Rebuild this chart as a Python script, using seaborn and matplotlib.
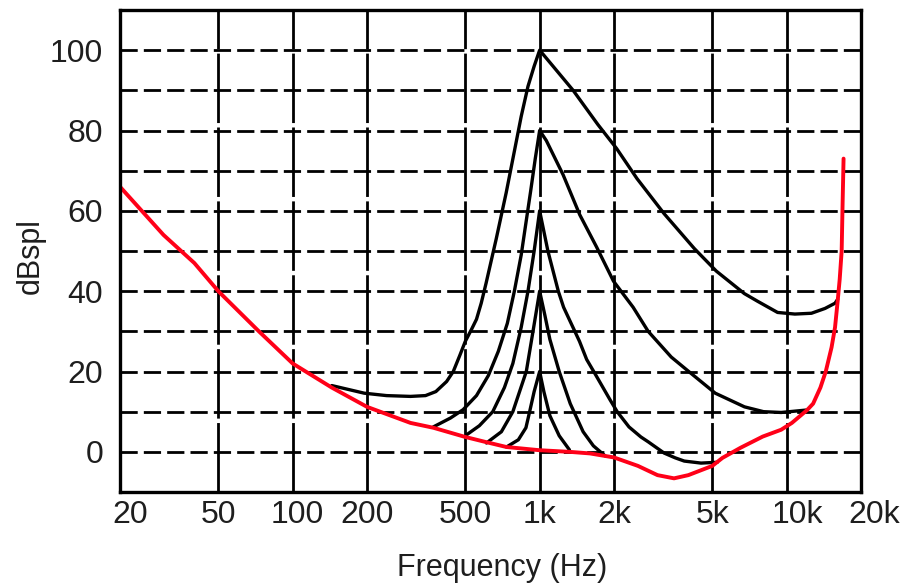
import matplotlib
matplotlib.use("Agg")
import matplotlib.pyplot as plt
import matplotlib.transforms as mtransforms
from matplotlib.ticker import FixedLocator, NullFormatter
import seaborn as sns

# threshold in quiet (red curve)
THRESH_FREQ = [20, 30, 40, 50, 73, 100, 144, 200, 300, 371, 500, 609, 734, 1000,
               1320, 1600, 2000, 2500, 3000, 3500, 4000, 5000, 5500, 6500, 8000,
               9500, 10500, 12100, 12800, 13700, 14400, 15200, 15700, 16100,
               16400, 16700, 16850, 17000]
THRESH_DB = [66, 54, 47, 40, 30, 22, 16, 11.2, 7.2, 6, 3.7, 2.4, 1.2, 0.4,
             0, -0.4, -1.4, -3.5, -5.8, -6.6, -5.8, -3.5, -1.5, 1, 3.8,
             5.5, 7.2, 10.4, 12, 16, 20, 26, 31, 37.7,
             43, 50, 62, 73]

# masking curves for a 1 kHz masker at 100, 80, 60, 40, 20 dB
MASK100_FREQ = [144, 195, 240, 300, 345, 380, 420, 447, 475, 500, 530, 555, 580,
                607, 667, 732, 791, 842, 897, 950, 1000, 1133, 1366, 1720, 2050, 2480,
                3190, 4230, 5190, 6740, 7620, 9190, 10800, 12600, 14300, 15700, 16100]
MASK100_DB = [16.5, 14.6, 14.0, 13.8, 14.0, 15.0, 17.5, 20.0, 24.0, 27.5, 30.5, 33.0, 37.0,
              42.0, 53.0, 64.5, 75.0, 83.5, 91.0, 96.0, 100.0, 96.0, 90.0, 81.5, 75.5, 68.0,
              59.3, 50.6, 45.0, 39.4, 37.5, 34.7, 34.3, 34.5, 35.7, 37.0, 38.0]

MASK80_FREQ = [371, 435, 490, 555, 620, 680, 740, 790, 842, 880, 920, 960, 1000,
               1064, 1244, 1454, 1700, 1990, 2390, 2750, 3410, 3960, 5140, 6750,
               8060, 9500, 12000]
MASK80_DB = [6.2, 8.4, 10.5, 14.0, 19.0, 25.0, 32.0, 40.0, 49.0, 57.0, 65.0, 73.0, 80.0,
             77.5, 69.0, 59.0, 51.0, 42.5, 36.0, 30.0, 23.6, 20.3, 14.6, 11.2,
             10.0, 9.8, 10.4]

MASK60_FREQ = [505, 570, 646, 720, 779, 842, 897, 950, 1000, 1080, 1190, 1250, 1450,
               1550, 1670, 1930, 2060, 2300, 2570, 2750, 3190, 3540, 3850, 4500, 5240]
MASK60_DB = [4.2, 6.5, 10, 16, 22, 31, 40, 50, 60, 50, 40, 36, 27.5,
             23, 19.6, 12.9, 10, 6.2, 3.7, 2.5, -0.3, -1.5, -2.3, -2.8, -2.6]

MASK40_FREQ = [609, 700, 779, 883, 940, 1000, 1050, 1100, 1200, 1330, 1500, 1650, 1840]
MASK40_DB = [2.2, 5, 10, 20, 30, 40, 34, 28, 20, 12, 5, 1.5, -1]

MASK20_FREQ = [734, 820, 880, 911, 950, 1000, 1040, 1100, 1200, 1320]
MASK20_DB = [1.2, 3, 6, 10, 15, 20, 15, 9, 4, 0.5]

XTICKS = [20, 50, 100, 200, 500, 1000, 2000, 5000, 10000, 20000]
XTICK_LABELS = ['20', '50', '100', '200', '500', '1k', '2k', '5k', '10k', '20k']
YTICKS = [0, 20, 40, 60, 80, 100]
YMINOR = [-10, 10, 30, 50, 70, 90, 110]

sns.set_style("white")
plt.rcParams['font.family'] = ['Liberation Sans', 'DejaVu Sans']

fig = plt.figure(figsize=(9.04, 5.83), dpi=100)
ax = fig.add_axes([120 / 904, 1 - 492 / 583, 741 / 904, 482 / 583])
ax.set_xscale('log')
ax.set_xlim(20, 20000)
ax.set_ylim(-10, 110)

# grid: long dashes vertically, shorter dashes horizontally
ax.xaxis.set_major_locator(FixedLocator(XTICKS))
ax.xaxis.set_minor_locator(FixedLocator([]))
ax.set_xticklabels(XTICK_LABELS)
ax.yaxis.set_major_locator(FixedLocator(YTICKS))
ax.yaxis.set_minor_locator(FixedLocator(YMINOR))
ax.yaxis.set_minor_formatter(NullFormatter())
ax.xaxis.grid(True, which='major', color='black', linewidth=2.0,
              linestyle=(0, (25, 1.6)))
ax.yaxis.grid(True, which='both', color='black', linewidth=2.0,
              linestyle=(0, (6.2, 2.2)))
ax.set_axisbelow(True)

masks = [(MASK100_FREQ, MASK100_DB), (MASK80_FREQ, MASK80_DB),
         (MASK60_FREQ, MASK60_DB), (MASK40_FREQ, MASK40_DB),
         (MASK20_FREQ, MASK20_DB)]
for freq, db in masks:
    sns.lineplot(x=freq, y=db, ax=ax, color='black', linewidth=2.4,
                 sort=False, estimator=None, zorder=3)

sns.lineplot(x=THRESH_FREQ, y=THRESH_DB, ax=ax, color='#ff0018', linewidth=2.8,
             sort=False, estimator=None, zorder=4)

for side in ['left', 'right', 'top', 'bottom']:
    ax.spines[side].set_visible(True)
    ax.spines[side].set_color('black')
    ax.spines[side].set_linewidth(2.4)
    ax.spines[side].set_zorder(5)

ax.tick_params(axis='both', which='both', length=0, labelsize=23,
               labelcolor='#1e1e1e')
ax.tick_params(axis='y', pad=12)
ax.tick_params(axis='x', pad=6)

# nudge some x tick labels like in the original
offsets = {20: 10, 100: 5, 10000: 11, 20000: 13}
for val, lab in zip(XTICKS, ax.get_xticklabels()):
    dx = offsets.get(val, 0)
    if dx:
        lab.set_transform(lab.get_transform() +
                          mtransforms.ScaledTranslation(dx / 100, 0, fig.dpi_scale_trans))

ax.set_xlabel('Frequency (Hz)', fontsize=22, color='#1e1e1e', va='center')
ax.xaxis.set_label_coords(0.5155, -0.158)
ax.set_ylabel('dBspl', fontsize=22, color='#1e1e1e', va='center')
ax.yaxis.set_label_coords(-0.121, 0.49)

fig.savefig('out.png', dpi=100)
plt.close(fig)
